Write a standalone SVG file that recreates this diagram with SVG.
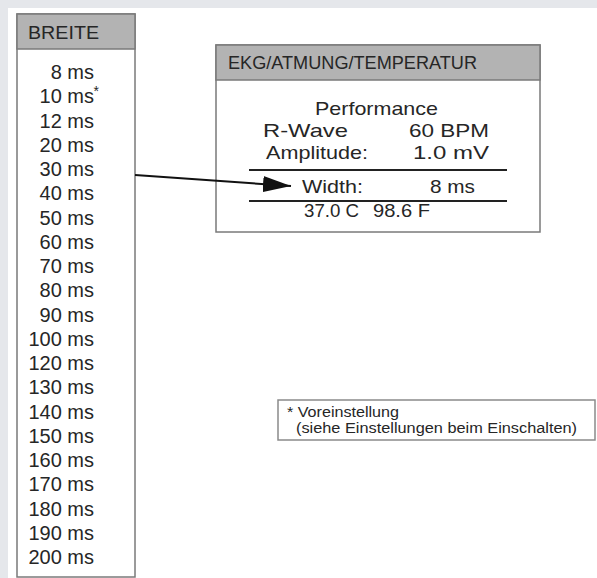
<svg xmlns="http://www.w3.org/2000/svg" width="597" height="578" viewBox="0 0 597 578">
<style>
text{font-family:"Liberation Sans",Arial,sans-serif;fill:#262626}
.box{fill:#fff;stroke:#7a7a7a;stroke-width:1.5}
.hdr{fill:#b3b3b3;stroke:#7a7a7a;stroke-width:1.5}
.li{font-size:20px;text-anchor:end}
.e{font-size:19px}
.n{font-size:14px}
.rule{stroke:#222;stroke-width:2}
</style>
<defs>
<marker id="ah" markerWidth="28" markerHeight="16" refX="28" refY="8" orient="auto" markerUnits="userSpaceOnUse">
<path d="M0,0 L28,8 L0,16 Z" fill="#111"/>
</marker>
</defs>
<rect x="0" y="0" width="597" height="578" fill="#e5e7eb"/>
<rect x="8" y="8" width="589" height="570" fill="#fff"/>
<g id="breite">
<rect class="box" x="17" y="14" width="118" height="563"/>
<rect class="hdr" x="17" y="14" width="118" height="35"/>
<text x="28" y="39" font-size="19" textLength="71" lengthAdjust="spacingAndGlyphs">BREITE</text>
<text class="li" x="94" y="79">8 ms</text>
<text class="li" x="94" y="103.25">10 ms</text>
<text x="93.5" y="96" font-size="14">*</text>
<text class="li" x="94" y="127.5">12 ms</text>
<text class="li" x="94" y="151.75">20 ms</text>
<text class="li" x="94" y="176">30 ms</text>
<text class="li" x="94" y="200.25">40 ms</text>
<text class="li" x="94" y="224.5">50 ms</text>
<text class="li" x="94" y="248.75">60 ms</text>
<text class="li" x="94" y="273">70 ms</text>
<text class="li" x="94" y="297.25">80 ms</text>
<text class="li" x="94" y="321.5">90 ms</text>
<text class="li" x="94" y="345.75">100 ms</text>
<text class="li" x="94" y="370">120 ms</text>
<text class="li" x="94" y="394.25">130 ms</text>
<text class="li" x="94" y="418.5">140 ms</text>
<text class="li" x="94" y="442.75">150 ms</text>
<text class="li" x="94" y="467">160 ms</text>
<text class="li" x="94" y="491.25">170 ms</text>
<text class="li" x="94" y="515.5">180 ms</text>
<text class="li" x="94" y="539.75">190 ms</text>
<text class="li" x="94" y="564">200 ms</text>
</g>
<g id="ekg">
<rect class="box" x="216" y="45" width="324" height="187"/>
<rect class="hdr" x="216" y="45" width="324" height="35"/>
<text x="228" y="69" font-size="18" textLength="249" lengthAdjust="spacingAndGlyphs">EKG/ATMUNG/TEMPERATUR</text>
<text class="e" x="315" y="115" textLength="123" lengthAdjust="spacingAndGlyphs">Performance</text>
<text class="e" x="263" y="137" textLength="85" lengthAdjust="spacingAndGlyphs">R-Wave</text>
<text class="e" x="409" y="137" textLength="80" lengthAdjust="spacingAndGlyphs">60 BPM</text>
<text class="e" x="266" y="159" textLength="102" lengthAdjust="spacingAndGlyphs">Amplitude:</text>
<text class="e" x="413" y="159" textLength="76" lengthAdjust="spacingAndGlyphs">1.0 mV</text>
<line class="rule" x1="249" y1="170" x2="507" y2="170"/>
<text class="e" x="302" y="193" textLength="61" lengthAdjust="spacingAndGlyphs">Width:</text>
<text class="e" x="430" y="193" textLength="45" lengthAdjust="spacingAndGlyphs">8 ms</text>
<line class="rule" x1="249" y1="201" x2="507" y2="201"/>
<text class="e" x="304" y="217" textLength="55" lengthAdjust="spacingAndGlyphs">37.0 C</text>
<text class="e" x="373" y="217" textLength="57" lengthAdjust="spacingAndGlyphs">98.6 F</text>
</g>
<g id="note">
<rect x="278" y="400" width="317" height="40" fill="#fff" stroke="#8a8a8a" stroke-width="1.5"/>
<text class="n" x="287" y="417" textLength="112" lengthAdjust="spacingAndGlyphs">* Voreinstellung</text>
<text class="n" x="296" y="433" textLength="281" lengthAdjust="spacingAndGlyphs">(siehe Einstellungen beim Einschalten)</text>
</g>
<g id="connectors">
<line x1="135" y1="175" x2="291" y2="186" stroke="#111" stroke-width="2" marker-end="url(#ah)"/>
</g>
</svg>
